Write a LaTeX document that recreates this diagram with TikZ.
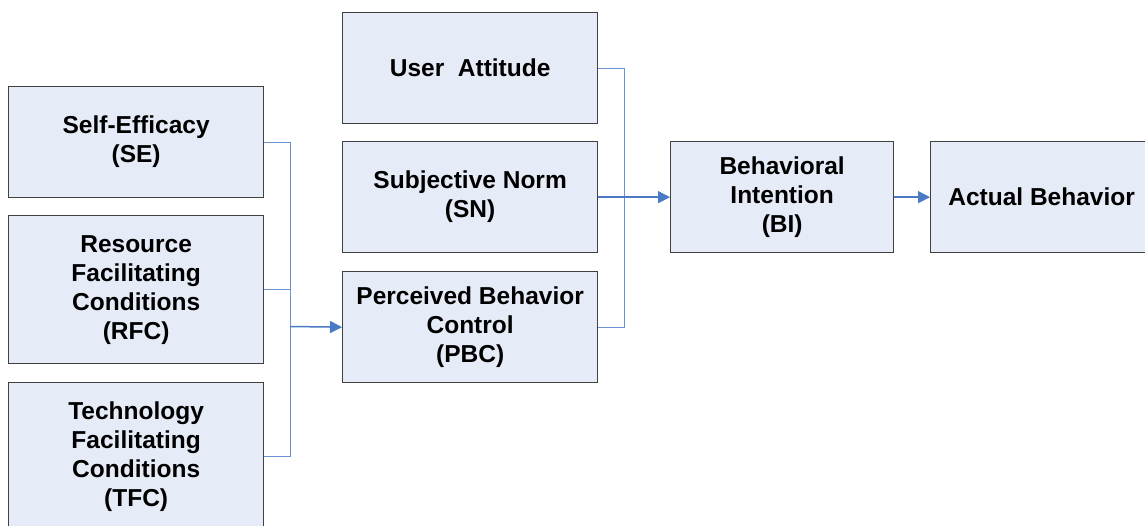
\documentclass[tikz,border=0pt]{standalone}
\usepackage{fontspec}
\setmainfont{Liberation Sans}
\usetikzlibrary{arrows.meta}
\definecolor{boxfill}{HTML}{E6ECF7}
\definecolor{boxline}{HTML}{404040}
\definecolor{conn}{HTML}{6A93D4}
\definecolor{arrc}{HTML}{4A7AC6}
\tikzset{
  box/.style={draw=boxline, fill=boxfill, line width=1.3pt, anchor=north west,
    inner sep=0pt, align=center, font=\fontsize{24.5}{29}\selectfont\bfseries},
  link/.style={draw=conn, line width=1pt},
  arr/.style={draw=arrc, line width=1.5pt, -{Triangle[length=12pt,width=12pt]}}
}
\begin{document}
\begin{tikzpicture}[x=1pt,y=-1pt]
\useasboundingbox (0,0) rectangle (1145,525);
% left column
\node[box, minimum width=255pt, minimum height=111pt] (se) at (8,86) {Self-Efficacy\\(SE)};
\node[box, minimum width=255pt, minimum height=148pt] (rfc) at (8,215) {Resource\\Facilitating\\Conditions\\(RFC)};
\node[box, minimum width=255pt, minimum height=148pt] (tfc) at (8,382) {Technology\\Facilitating\\Conditions\\(TFC)};
% middle column
\node[box, minimum width=255pt, minimum height=111pt] (ua) at (342,12) {User~~Attitude};
\node[box, minimum width=255pt, minimum height=111pt] (sn) at (342,141) {Subjective Norm\\(SN)};
\node[box, minimum width=255pt, minimum height=111pt] (pbc) at (342,271) {Perceived Behavior\\Control\\(PBC)};
% right
\node[box, minimum width=223pt, minimum height=111pt] (bi) at (670,141) {Behavioral\\Intention\\(BI)};
\node[box, minimum width=222pt, minimum height=111pt] (ab) at (930,141) {Actual Behavior};
% junctions
\coordinate (j1) at (290,326.5);
\coordinate (j2) at (624,196.5);
\draw[link] (se.east) -| (j1);
\draw[link] (rfc.east) -| (j1);
\draw[link] (tfc.east) -| (j1);
\draw[arr] (j1) -- (pbc.west);
\draw[link] (ua.east) -| (j2);
\draw[link] (pbc.east) -| (j2);
\draw[arr] (sn.east) -- (bi.west);
\draw[arr] (bi.east) -- (ab.west);
\end{tikzpicture}
\end{document}
